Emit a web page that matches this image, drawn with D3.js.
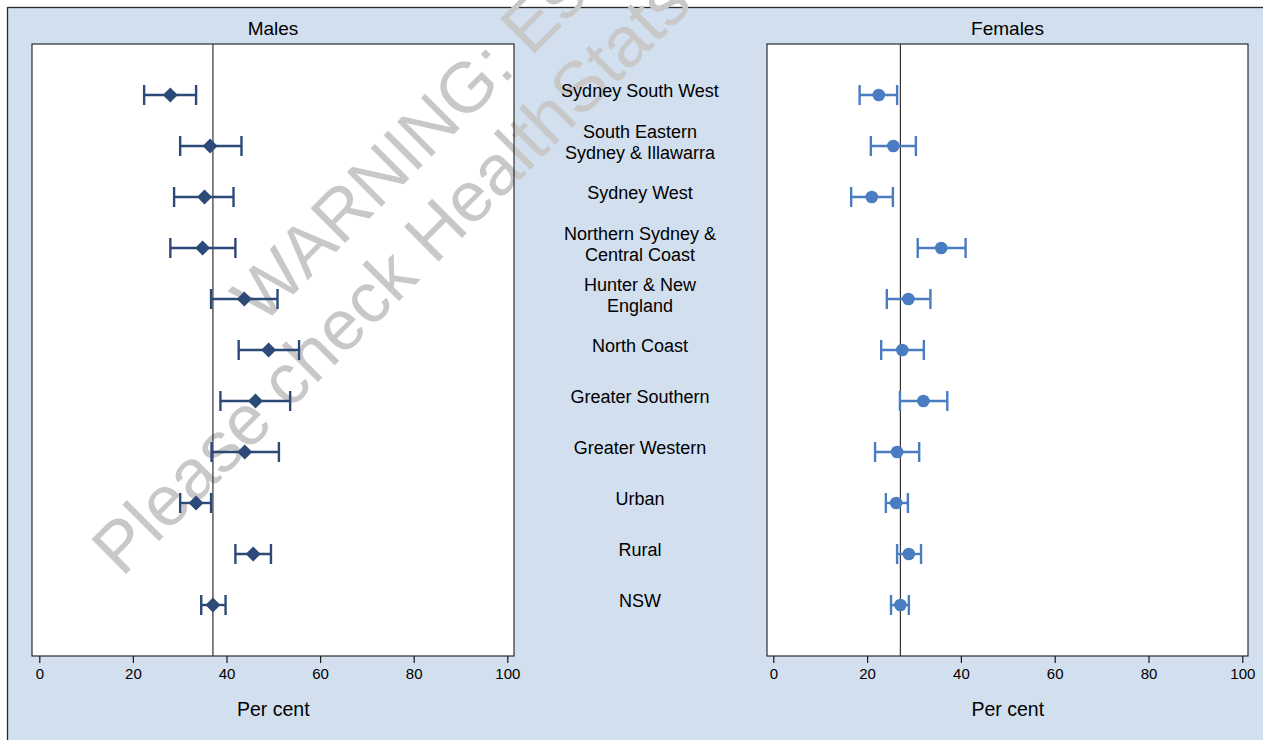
<!DOCTYPE html>
<html>
<head>
<meta charset="utf-8">
<script src="https://cdn.jsdelivr.net/npm/d3@7"></script>
<style>
  html, body { margin: 0; padding: 0; background: #ffffff; overflow: hidden; }
  svg { display: block; font-family: "Liberation Sans", Arial, sans-serif; }
</style>
</head>
<body>
<svg id="chart" width="1263" height="740"></svg>
<script>
// Regions, top to bottom (multi-line names split with "\n")
const categories = [
  "Sydney South West",
  "South Eastern\nSydney & Illawarra",
  "Sydney West",
  "Northern Sydney &\nCentral Coast",
  "Hunter & New\nEngland",
  "North Coast",
  "Greater Southern",
  "Greater Western",
  "Urban",
  "Rural",
  "NSW"
];

// Males: estimate and 95% confidence limits (per cent)
const maleEst  = [28.0, 36.5, 35.3, 34.9, 43.8, 49.0, 46.2, 43.9, 33.5, 45.7, 37.1];
const maleLow  = [22.4, 30.1, 28.8, 28.0, 36.7, 42.6, 38.7, 36.8, 30.1, 41.9, 34.6];
const maleHigh = [33.5, 43.2, 41.5, 41.9, 50.9, 55.5, 53.6, 51.2, 36.7, 49.5, 39.8];

// Females: estimate and 95% confidence limits (per cent)
const femaleEst  = [22.5, 25.6, 21.0, 35.8, 28.8, 27.5, 32.0, 26.4, 26.2, 28.9, 27.1];
const femaleLow  = [18.4, 20.8, 16.6, 30.8, 24.2, 23.0, 27.0, 21.7, 24.0, 26.4, 25.1];
const femaleHigh = [26.4, 30.4, 25.5, 41.0, 33.5, 32.1, 37.1, 31.1, 28.7, 31.5, 28.9];

const xTicks = [0, 20, 40, 60, 80, 100];
const panelTitles = ["Males", "Females"];
const axisTitle = "Per cent";
const watermarkLines = ["WARNING: Estimates", "Please check HealthStats"];

const svg = d3.select("#chart");
const bg = "#d2dfee";
const maleColor = "#2c4a77";
const femaleColor = "#4a7cc2";

// outer graph region (extends past the visible window)
svg.append("rect")
  .attr("x", 7.5).attr("y", 7.5)
  .attr("width", 1400).attr("height", 900)
  .attr("fill", bg).attr("stroke", "#2a2a2a").attr("stroke-width", 1.3);

const plotTop = 44, plotBottom = 656;
const panels = [
  { title: panelTitles[0], left: 32, right: 514, x0: 39.3, x1: 507.3,
    est: maleEst, low: maleLow, high: maleHigh, color: maleColor, marker: "diamond" },
  { title: panelTitles[1], left: 767, right: 1248, x0: 773.3, x1: 1242.3,
    est: femaleEst, low: femaleLow, high: femaleHigh, color: femaleColor, marker: "circle" }
];

const y = d3.scalePoint().domain(d3.range(categories.length))
  .range([plotTop, plotBottom]).padding(1);

// white plot areas
panels.forEach(p => {
  svg.append("rect")
    .attr("x", p.left).attr("y", plotTop)
    .attr("width", p.right - p.left).attr("height", plotBottom - plotTop)
    .attr("fill", "#ffffff");
});

// watermark
const wm = svg.append("g").attr("fill", "#c8c8c8")
  .style("font-size", "71px");
wm.append("text").attr("transform", "translate(262,326) rotate(-45)").text(watermarkLines[0]);
wm.append("text").attr("transform", "translate(122,578) rotate(-45)").text(watermarkLines[1]);

panels.forEach(p => {
  const x = d3.scaleLinear().domain([0, 100]).range([p.x0, p.x1]);
  const g = svg.append("g");

  // plot border
  g.append("rect")
    .attr("x", p.left).attr("y", plotTop)
    .attr("width", p.right - p.left).attr("height", plotBottom - plotTop)
    .attr("fill", "none").attr("stroke", "#1a1a1a").attr("stroke-width", 1.1);

  // reference line at the NSW estimate
  const ref = p.est[p.est.length - 1];
  g.append("line")
    .attr("x1", x(ref)).attr("x2", x(ref))
    .attr("y1", plotTop).attr("y2", plotBottom)
    .attr("stroke", "#333").attr("stroke-width", 1.2);

  // x axis
  const ax = g.append("g")
    .attr("transform", `translate(0,${plotBottom})`)
    .call(d3.axisBottom(x).tickValues(xTicks).tickSize(7).tickSizeOuter(0).tickPadding(5));
  ax.select(".domain").remove();
  ax.selectAll(".tick line").attr("stroke", "#1a1a1a").attr("stroke-width", 1.2);
  ax.selectAll(".tick text")
    .attr("fill", "#000")
    .style("font-size", "15px")
    .style("font-family", "'Liberation Sans', Arial, sans-serif");

  // panel title and axis title
  g.append("text")
    .attr("x", (p.left + p.right) / 2).attr("y", 35)
    .attr("text-anchor", "middle").style("font-size", "19px")
    .text(p.title);
  g.append("text")
    .attr("x", (p.x0 + p.x1) / 2).attr("y", 716)
    .attr("text-anchor", "middle").style("font-size", "19.5px")
    .text(axisTitle);

  // confidence intervals
  const rows = d3.range(categories.length);
  const capH = 10;
  const ci = g.append("g").attr("stroke", p.color).attr("stroke-width", 2.4).attr("fill", "none");
  ci.selectAll("line.bar").data(rows).join("line").attr("class", "bar")
    .attr("x1", i => x(p.low[i])).attr("x2", i => x(p.high[i]))
    .attr("y1", i => y(i)).attr("y2", i => y(i));
  ci.selectAll("line.capl").data(rows).join("line").attr("class", "capl")
    .attr("x1", i => x(p.low[i])).attr("x2", i => x(p.low[i]))
    .attr("y1", i => y(i) - capH).attr("y2", i => y(i) + capH);
  ci.selectAll("line.caph").data(rows).join("line").attr("class", "caph")
    .attr("x1", i => x(p.high[i])).attr("x2", i => x(p.high[i]))
    .attr("y1", i => y(i) - capH).attr("y2", i => y(i) + capH);

  // point estimates
  if (p.marker === "diamond") {
    const d = 7.5;
    g.selectAll("path.pt").data(rows).join("path").attr("class", "pt")
      .attr("d", i => {
        const cx = x(p.est[i]), cy = y(i);
        return `M${cx},${cy - d}L${cx + d},${cy}L${cx},${cy + d}L${cx - d},${cy}Z`;
      })
      .attr("fill", p.color);
  } else {
    g.selectAll("circle.pt").data(rows).join("circle").attr("class", "pt")
      .attr("cx", i => x(p.est[i])).attr("cy", i => y(i)).attr("r", 6.3)
      .attr("fill", p.color);
  }
});

// category labels between the panels
const fs = 18, lh = 21;
categories.forEach((c, i) => {
  const lines = c.split("\n");
  const t = svg.append("text")
    .attr("text-anchor", "middle").style("font-size", fs + "px").attr("fill", "#000");
  lines.forEach((ln, k) => {
    const cy = y(i) - 4 + (k - (lines.length - 1) / 2) * lh;
    t.append("tspan").attr("x", 640).attr("y", cy + 0.36 * fs).text(ln);
  });
});
</script>
</body>
</html>
